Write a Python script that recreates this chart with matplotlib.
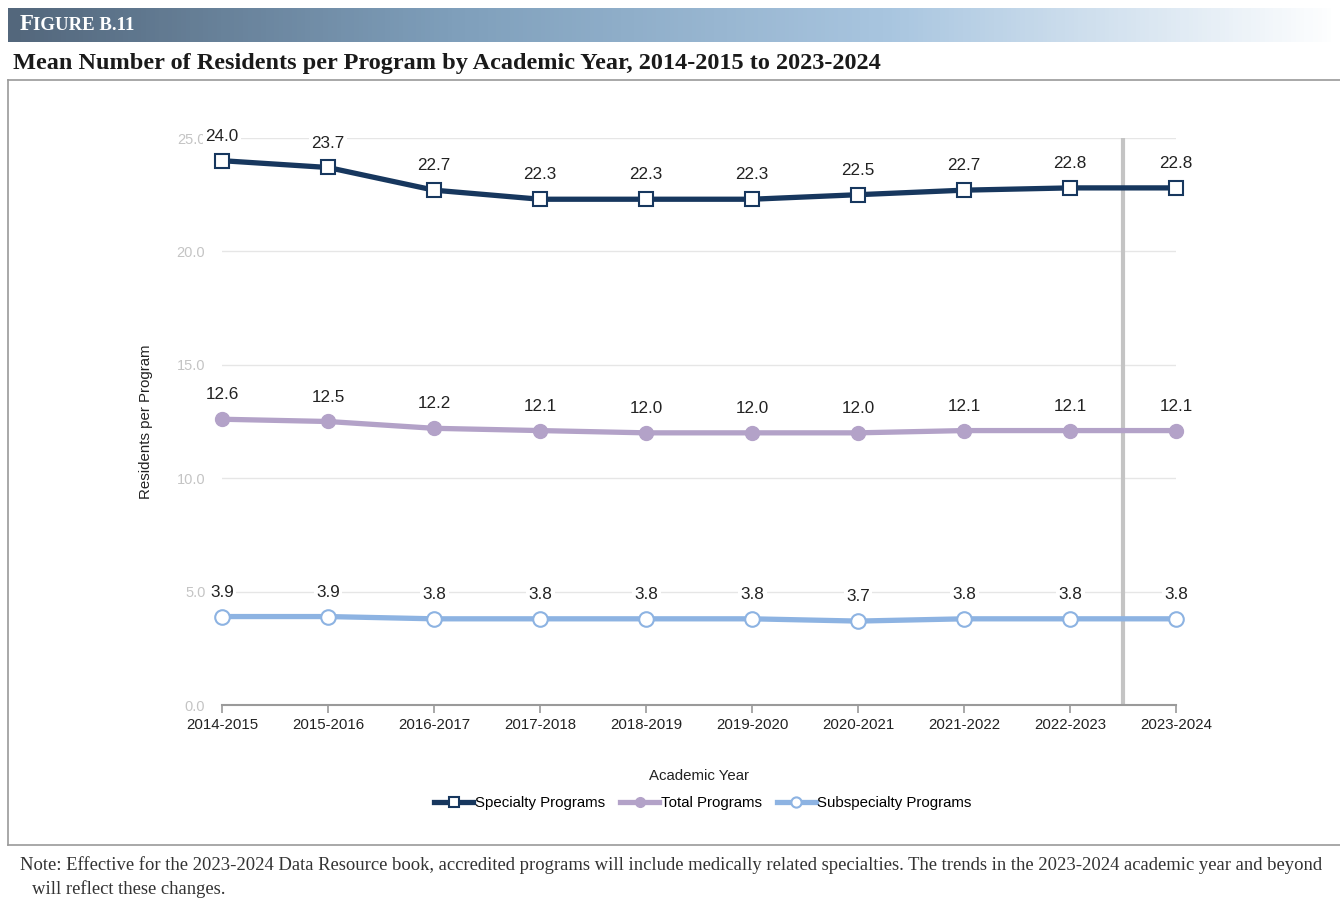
import numpy as np
import matplotlib.pyplot as plt
from matplotlib.colors import LinearSegmentedColormap

# datos
years = ["2014-2015", "2015-2016", "2016-2017", "2017-2018", "2018-2019",
         "2019-2020", "2020-2021", "2021-2022", "2022-2023", "2023-2024"]
specialty = [24.0, 23.7, 22.7, 22.3, 22.3, 22.3, 22.5, 22.7, 22.8, 22.8]
total = [12.6, 12.5, 12.2, 12.1, 12.0, 12.0, 12.0, 12.1, 12.1, 12.1]
subspecialty = [3.9, 3.9, 3.8, 3.8, 3.8, 3.8, 3.7, 3.8, 3.8, 3.8]
yticks = [0.0, 5.0, 10.0, 15.0, 20.0, 25.0]

W, H = 1340, 905
fig = plt.figure(figsize=(W / 100, H / 100), dpi=100)

# banda de cabecera con degradado
hdr = fig.add_axes([8 / W, 1 - 42 / H, (W - 8) / W, 34 / H])
cmap = LinearSegmentedColormap.from_list("hdr", ["#53677c", "#7f9fbb", "#a9c6e0", "#ffffff"])
hdr.imshow(np.linspace(0, 1, 300).reshape(1, -1), aspect="auto", cmap=cmap, extent=[0, 1, 0, 1])
hdr.set_axis_off()
fig.text(20 / W, 1 - 25 / H, "F", color="white", fontsize=16.5, fontweight="bold",
         family="Liberation Serif", va="center")
fig.text(33 / W, 1 - 26 / H, "IGURE B.11", color="white", fontsize=13.5, fontweight="bold",
         family="Liberation Serif", va="center")

fig.text(13 / W, 1 - 63 / H, "Mean Number of Residents per Program by Academic Year, 2014-2015 to 2023-2024",
         fontsize=17.5, fontweight="bold", family="Liberation Serif", va="center", color="#1a1a1a")

# lineas del marco
fig.add_artist(plt.Line2D([8 / W, 1], [1 - 80 / H, 1 - 80 / H], color="#9a9a9a", lw=1.2))
fig.add_artist(plt.Line2D([8 / W, 8 / W], [1 - 80 / H, 1 - 845 / H], color="#9a9a9a", lw=1.2))
fig.add_artist(plt.Line2D([8 / W, 1], [1 - 845 / H, 1 - 845 / H], color="#9a9a9a", lw=1.2))

fig.text(20 / W, 1 - 865 / H,
         "Note: Effective for the 2023-2024 Data Resource book, accredited programs will include medically related specialties. The trends in the 2023-2024 academic year and beyond",
         fontsize=13.4, family="Liberation Serif", va="center", color="#333333")
fig.text(32 / W, 1 - 889 / H, "will reflect these changes.",
         fontsize=13.4, family="Liberation Serif", va="center", color="#333333")

# grafico principal
ax = fig.add_axes([222 / W, 1 - 705 / H, (1176 - 222) / W, (705 - 138) / H])
x = np.arange(len(years))

ax.plot(x, specialty, color="#17375e", lw=3.8, marker="s", ms=9.5, mfc="white",
        mec="#17375e", mew=1.5, label="Specialty Programs", zorder=3, clip_on=False)
ax.plot(x, total, color="#b3a2c8", lw=3.8, marker="o", ms=10, mfc="#b3a2c8",
        mec="#b3a2c8", label="Total Programs", zorder=3, clip_on=False)
ax.plot(x, subspecialty, color="#8db3e2", lw=3.8, marker="o", ms=10.5, mfc="white",
        mec="#8db3e2", mew=1.5, label="Subspecialty Programs", zorder=3, clip_on=False)

for serie in [specialty, total, subspecialty]:
    for i, v in enumerate(serie):
        ax.annotate(f"{v:.1f}", (i, v), xytext=(0, 17.5), textcoords="offset points",
                    ha="center", va="center", fontsize=12.3, color="#222222",
                    family="Liberation Sans", zorder=4,
                    bbox=dict(boxstyle="square,pad=0.15", fc="white", ec="none"))

ax.axvline(8.5, color="#c4c4c4", lw=3, zorder=2)

ax.set_xlim(0, 9)
ax.set_ylim(0, 25)
ax.set_yticks(yticks)
ax.set_yticklabels([f"{t:.1f}" for t in yticks], color="#c4c4c4", fontsize=10.5, family="Liberation Sans")
ax.set_xticks(x)
ax.set_xticklabels(years, fontsize=10.8, color="#222222", family="Liberation Sans")
ax.grid(axis="y", color="#e6e6e6", lw=1)
ax.set_axisbelow(True)
for s in ["top", "right", "left"]:
    ax.spines[s].set_visible(False)
ax.spines["bottom"].set_color("#9a9a9a")
ax.spines["bottom"].set_linewidth(1.5)
ax.tick_params(axis="y", length=0, pad=12)
ax.tick_params(axis="x", length=6, color="#9a9a9a", width=1.2, pad=3)

ax.set_xlabel("Academic Year", fontsize=10.8, family="Liberation Sans", color="#222222", labelpad=27)
ax.set_ylabel("Residents per Program", fontsize=10.8, family="Liberation Sans", color="#222222", labelpad=17)

fig.legend(loc="center", bbox_to_anchor=(703 / W, 1 - 803 / H), ncol=3, frameon=False,
           prop={"family": "Liberation Sans", "size": 10.8}, handlelength=2.6,
           handletextpad=0.1, columnspacing=1.0, markerscale=0.7)

plt.savefig("out.png", dpi=100)
plt.close()
